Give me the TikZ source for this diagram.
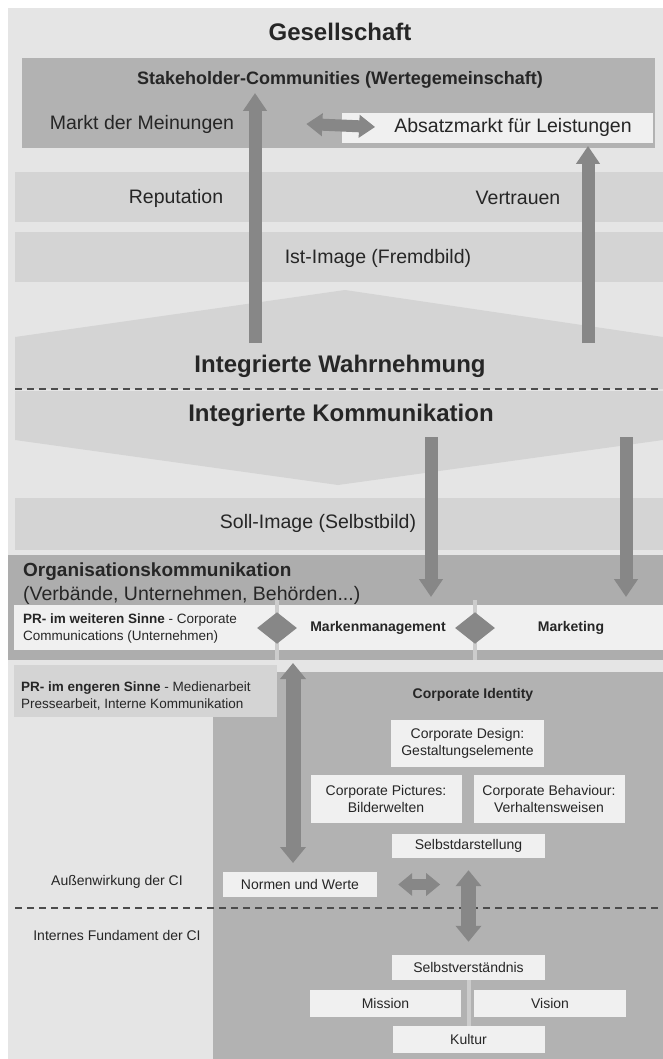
\documentclass[tikz,border=0pt]{standalone}
\usepackage{fontspec}
\setmainfont{Liberation Sans}
\usetikzlibrary{positioning, arrows.meta}
\definecolor{bgpale}{gray}{0.90}
\definecolor{bandgray}{gray}{0.83}
\definecolor{darkband}{gray}{0.70}
\definecolor{orggray}{gray}{0.68}
\definecolor{boxpale}{gray}{0.94}
\definecolor{arrowgray}{gray}{0.53}
\definecolor{sepgray}{gray}{0.80}

\begin{document}
\begin{tikzpicture}[x=1pt, y=-1pt,
  every node/.style={inner sep=0pt, text=black!85},
  big/.style={font=\fontsize{19.5}{22}\selectfont},
  head/.style={font=\bfseries\fontsize{24}{27}\selectfont},
  small/.style={font=\fontsize{13.5}{17}\selectfont},
  cibox/.style={fill=boxpale, minimum width=#1, minimum height=25pt,
                align=center, font=\fontsize{14}{17}\selectfont},
  cibox/.default=153pt,
  fat/.style={draw=arrowgray, line width=13pt, -{Triangle[width=23pt,length=18pt]}},
  fatboth/.style={draw=arrowgray, line width=15pt,
                  {Triangle[width=25pt,length=16pt]}-{Triangle[width=25pt,length=16pt]}},
  diam/.style={draw=arrowgray, line width=8pt,
               {Triangle[width=30pt,length=20pt]}-{Triangle[width=30pt,length=20pt]}},
  dashline/.style={draw=black!70, line width=1.4pt, dash pattern=on 7pt off 5pt},
  sepline/.style={draw=sepgray, line width=4pt}]
\useasboundingbox (0,0) rectangle (663,1059);
\fill[white] (0,0) rectangle (663,1059);
\fill[bgpale] (8,8) rectangle (663,1059);
%
% bands of the upper part
\fill[darkband] (22,58) rectangle (655,148);
\fill[boxpale] (342,113) rectangle (653,143);
\fill[bandgray] (15,172) rectangle (663,222);
\fill[bandgray] (15,232) rectangle (663,282);
\fill[bandgray] (15,337) -- (345,290) -- (663,337) -- (663,389) -- (15,389) -- cycle;
\fill[bandgray] (15,391) -- (663,391) -- (663,440) -- (338,485) -- (15,440) -- cycle;
\fill[bandgray] (15,498) rectangle (663,550);
\fill[orggray] (8,555) rectangle (663,660);
\fill[boxpale] (14,605) rectangle (663,650);
%
% lower part
\fill[darkband] (213,672) rectangle (663,1059);
\fill[bandgray] (14,665) rectangle (277,717);
%
\draw[dashline] (15,389) -- (663,389);
\draw[dashline] (15,908) -- (663,908);

\node[head] (ges) at (340,32) {Gesellschaft};
\node[font=\bfseries\fontsize{18}{21}\selectfont] (stake) at (340,80)
  {Stakeholder-Communities (Wertegemeinschaft)};
\node[big] (markt) at (142,124) {Markt der Meinungen};
\node[big] (absatz) at (513,127) {Absatzmarkt für Leistungen};
\node[big] (reput) at (176,198) {Reputation};
\node[big] (vertr) at (518,198) {Vertrauen};
\node[big] (ist) at (378,258) {Ist-Image (Fremdbild)};
\node[head] (wahr) at (340,366) {Integrierte Wahrnehmung};
\node[head] (komm) at (341,415) {Integrierte Kommunikation};
\node[big] (soll) at (318,523) {Soll-Image (Selbstbild)};
\node[anchor=west, font=\bfseries\fontsize{19}{22}\selectfont] (org) at (23,572)
  {Organisationskommunikation};
\node[anchor=west, big] (verb) at (23,595) {(Verbände, Unternehmen, Behörden...)};

% the row of the three fields
\coordinate (sepA) at (277,628);
\coordinate (sepB) at (475,628);
\draw[sepline] (277,600) -- (277,660);
\draw[sepline] (475,600) -- (475,660);
\node[anchor=west, small, align=left] (prw) at (23,628)
  {\textbf{PR- im weiteren Sinne} - Corporate\\Communications (Unternehmen)};
\node[small, font=\bfseries\fontsize{14}{17}\selectfont] (marken) at (378,628) {Markenmanagement};
\node[small, font=\bfseries\fontsize{14}{17}\selectfont] (marketing) at (571,628) {Marketing};
\draw[diam] ([xshift=-20pt]sepA) -- ([xshift=20pt]sepA);
\draw[diam] ([xshift=-20pt]sepB) -- ([xshift=20pt]sepB);

\node[anchor=west, small, align=left] (pre) at (21,696)
  {\textbf{PR- im engeren Sinne} - Medienarbeit\\Pressearbeit, Interne Kommunikation};

% Corporate Identity
\node[font=\bfseries\fontsize{14}{17}\selectfont] (ci) at (473,695) {Corporate Identity};
\node[cibox, minimum height=47pt] (design) at (467.5,743.5) {Corporate Design:\\Gestaltungselemente};
\node[cibox=151pt, minimum height=48pt] (pict) at (386,799) {Corporate Pictures:\\Bilderwelten};
\node[cibox=151pt, minimum height=48pt] (behav) at (549,799) {Corporate Behaviour:\\Verhaltensweisen};
\node[cibox, minimum height=24pt] (selbstd) at (468.5,846) {Selbstdarstellung};
\node[cibox=154pt] (normen) at (300,884.5) {Normen und Werte};
\node[cibox] (selbstv) at (468.5,967.5) {Selbstverständnis};
\node[cibox=152pt, minimum height=27pt] (kultur) at (468.5,1039.5) {Kultur};
\draw[sepline] (selbstv) -- (kultur);
\node[cibox=151pt, minimum height=27pt] (mission) at (385.5,1003.5) {Mission};
\node[cibox=152pt, minimum height=27pt] (vision) at (550,1003.5) {Vision};

\node[small, font=\fontsize{14}{17}\selectfont] (aussen) at (117,882) {Außenwirkung der CI};
\node[small, font=\fontsize{14}{17}\selectfont] (intern) at (117,935) {Internes Fundament der CI};

% arrows
\coordinate (wL) at (255,343);
\coordinate (wR) at (588,343);
\coordinate (tipL) at (255,93);
\coordinate (tipR) at (588,146);
\draw[fat] (wL) -- (tipL);
\draw[fat] (wR) -- (tipR);
\draw[fatboth, line width=12pt, {Triangle[width=22pt,length=16pt]}-{Triangle[width=22pt,length=16pt]}]
  ([xshift=72pt]markt.east) -- ([xshift=-19pt]absatz.west);
%
\coordinate (kL) at (431,437);
\coordinate (kR) at (626,437);
\draw[fat] (kL) -- (kL |- 0,597);
\draw[fat] (kR) -- (kR |- 0,597);
%
\coordinate (prTop) at (293,663);
\coordinate (prBot) at (293,863);
\draw[fatboth] (prTop) -- (prBot);
\draw[fatboth, line width=11pt, {Triangle[width=22pt,length=14pt]}-{Triangle[width=22pt,length=14pt]}]
  ([xshift=21pt]normen.east) -- ([xshift=63pt]normen.east);
\draw[fatboth, shorten <=12pt, shorten >=13pt] (selbstd) -- (selbstv);
\end{tikzpicture}
\end{document}
